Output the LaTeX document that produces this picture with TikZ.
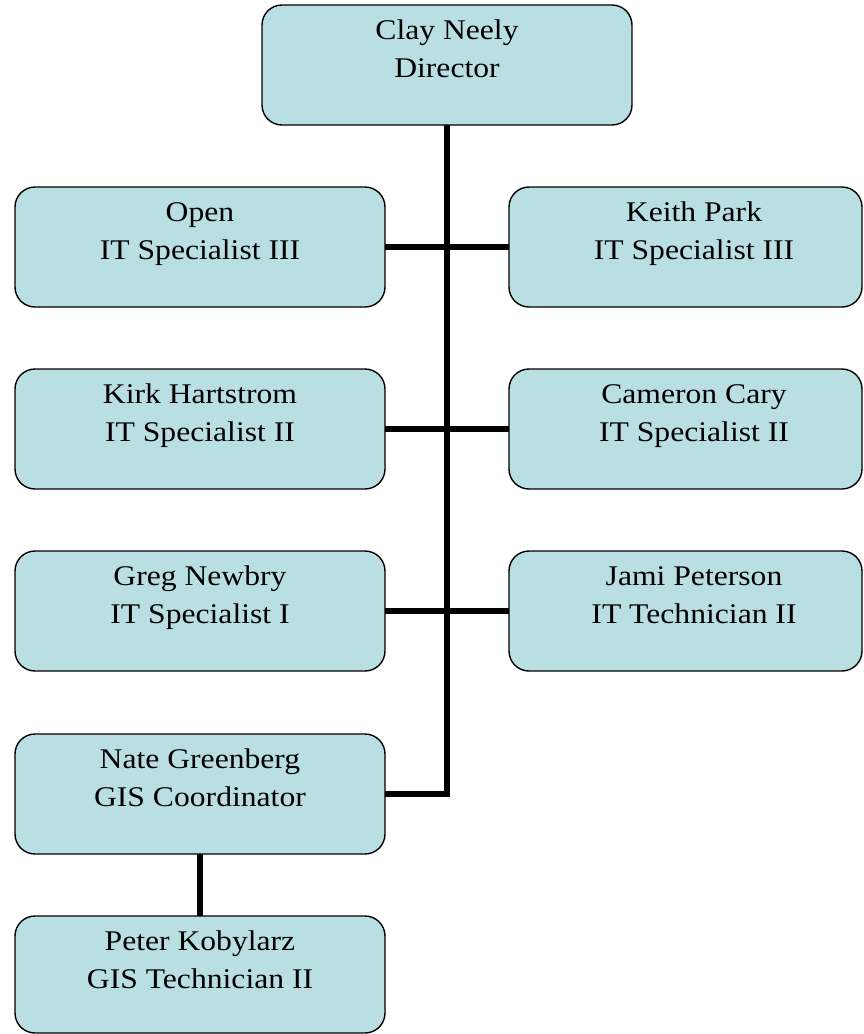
\documentclass[tikz,border=0pt]{standalone}
\usepackage{fontspec}
\setmainfont{Liberation Serif}[FakeStretch=1.11]
\definecolor{boxfill}{RGB}{186,223,226}
\tikzset{
  box/.style={draw=black, line width=1.4pt, fill=boxfill, rounded corners=20pt,
    minimum width=370pt, minimum height=120pt, inner sep=0pt, outer sep=0pt},
  lbl/.style={anchor=north, align=center, inner sep=0pt, font=\fontsize{28.5}{38}\selectfont},
  conn/.style={line width=6pt}
}
\begin{document}
\begin{tikzpicture}[x=1pt,y=-1pt]
\useasboundingbox (0,0) rectangle (863,1034);
\node[box, label={[lbl,yshift=-15pt]north:Clay Neely\\Director}] (clay) at (447,65) {};
\node[box, label={[lbl,yshift=-15pt]north:Open\\IT Specialist III}] (open) at (200,247) {};
\node[box, minimum width=353pt, label={[lbl,yshift=-15pt,xshift=8.5pt]north:Keith Park\\IT Specialist III}] (keith) at (685.5,247) {};
\node[box, label={[lbl,yshift=-15pt]north:Kirk Hartstrom\\IT Specialist II}] (kirk) at (200,429) {};
\node[box, minimum width=353pt, label={[lbl,yshift=-15pt,xshift=8.5pt]north:Cameron Cary\\IT Specialist II}] (cameron) at (685.5,429) {};
\node[box, label={[lbl,yshift=-15pt]north:Greg Newbry\\IT Specialist I}] (greg) at (200,611) {};
\node[box, minimum width=353pt, label={[lbl,yshift=-15pt,xshift=8.5pt]north:Jami Peterson\\IT Technician II}] (jami) at (685.5,611) {};
\node[box, label={[lbl,yshift=-15pt]north:Nate Greenberg\\GIS Coordinator}] (nate) at (200,794) {};
\node[box, minimum height=117pt, label={[lbl,yshift=-15pt]north:Peter Kobylarz\\GIS Technician II}] (peter) at (200,974.5) {};
\draw[conn] (clay.south) |- (nate.east);
\draw[conn] (open.east) -- (keith.west);
\draw[conn] (kirk.east) -- (cameron.west);
\draw[conn] (greg.east) -- (jami.west);
\draw[conn] (nate.south) -- (peter.north);
\end{tikzpicture}
\end{document}
